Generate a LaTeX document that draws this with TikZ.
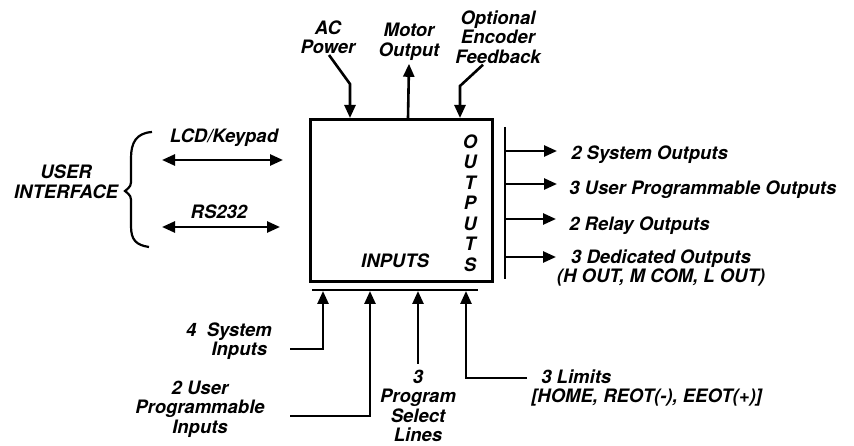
\documentclass[tikz,border=0pt]{standalone}
\usepackage{fontspec}
\setmainfont{TeX Gyre Heros}
\usetikzlibrary{arrows.meta}
\newcommand\lblfont{\fontsize{18.5}{19.5}\selectfont\bfseries\itshape}
\begin{document}
\begin{tikzpicture}[x=1pt,y=-1pt,line width=2.6pt,
  >={Triangle[length=13pt,width=11pt]},
  lbl/.style={font=\lblfont,align=center,inner sep=0pt},
  conn/.style={line join=miter}]
\useasboundingbox (0,0) rectangle (854,446);
% main box
\node[draw,minimum width=182pt,minimum height=162pt,anchor=north west,inner sep=0pt] (box) at (309,118) {};
\node[lbl] (inp) at (395,261) {INPUTS};
\node[lbl] (outp) at (470,203) {O\\[1pt]U\\[1pt]T\\[1pt]P\\[1pt]U\\[1pt]T\\[1pt]S};
% bars
\coordinate (ob1) at (505,127); \coordinate (ob2) at (505,279);
\draw (ob1) -- (ob2);
\coordinate (ib1) at (312,290); \coordinate (ib2) at (478,290);
\draw (ib1) -- (ib2);
% top
\node[lbl] (ac) at (328,37) {AC\\Power};
\node[lbl] (mo) at (409,42) {Motor\\Output};
\node[lbl] (enc) at (498,37) {Optional\\Encoder\\Feedback};
\draw[->,conn] ([xshift=1pt]ac.south) -- (350,84) -- ({350,0}|-box.north);
\draw[->] ({408,0}|-box.north) -- ([yshift=-2pt]mo.south);
\draw[->,conn] ([xshift=-15pt]enc.south) -- (460,86) -- ({460,0}|-box.north);
% left
\node[lbl] (lcd) at (224,138) {LCD/Keypad};
\node[lbl] (rs) at (219,212) {RS232};
\coordinate (l1a) at (162,160); \coordinate (l1b) at (283,160);
\coordinate (l2a) at (162,227); \coordinate (l2b) at (280,227);
\draw[<->] (l1a) -- (l1b);
\draw[<->] (l2a) -- (l2b);
\node[lbl] (ui) at (66,182) {USER\\INTERFACE};
\draw[line width=2.2pt] (152,132) .. controls (136,133) and (131,143) .. (131,158) -- (131,178)
  .. controls (131,186) .. (125,191) .. controls (131,196) .. (131,204) -- (131,226)
  .. controls (131,240) and (136,245) .. (149,247);
% outputs
\node[lbl,anchor=west] (o1) at (570,155) {2 System Outputs};
\node[lbl,anchor=west] (o2) at (568,190) {3 User Programmable Outputs};
\node[lbl,anchor=west] (o3) at (568,226) {2 Relay Outputs};
\node[lbl] (o4) at (661,268) {3 Dedicated Outputs\\(H OUT, M COM, L OUT)};
\draw[->] (505,151) -- (557,151);
\draw[->] (505,184) -- (557,184);
\draw[->] (505,219) -- (556,219);
\draw[->] (504,257) -- (556,257);
% inputs
\node[lbl] (si) at (229,341) {4~~System\\\phantom{4~~}Inputs};
\node[lbl] (ui2) at (200,409) {2 User\\Programmable\\Inputs};
\node[lbl] (ps) at (418,406) {3\\Program\\Select\\Lines};
\node[lbl,align=left,anchor=west] (lim) at (530,388) {\hspace{10pt}3 Limits\\{}[HOME, REOT(-), EEOT(+)]};
\coordinate (s0) at (290,349);
\draw[->,conn] (s0) -- (323,349) -- (323,291);
\coordinate (u0) at (290,416);
\draw[->,conn] (u0) -- (370,416) -- (370,291);
\draw[->] ([yshift=5pt]ps.north) -- (418,291);
\coordinate (l0) at (527,378);
\draw[->,conn] (l0) -- (466,378) -- (466,291);
\end{tikzpicture}
\end{document}
